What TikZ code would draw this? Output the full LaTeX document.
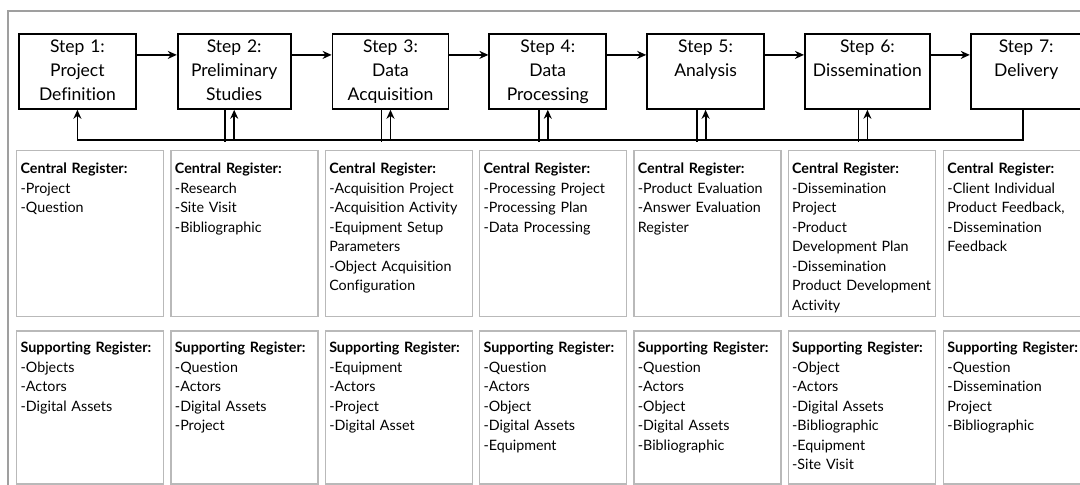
\documentclass[tikz,border=0pt]{standalone}
\usepackage{fontspec}
\setmainfont{Lato}[Ligatures=NoCommon]
\usetikzlibrary{positioning}
\usetikzlibrary{arrows.meta}

\begin{document}
\begin{tikzpicture}[x=1pt,y=-1pt,node distance=40pt,line width=1.8pt,
  >={Stealth[length=9pt,width=8pt]},
  stepbox/.style={draw,rectangle,align=center,inner sep=3pt,
    font=\fontsize{17.5}{24}\selectfont,text height=16pt,text depth=53pt},
  register/.style={draw=gray!55,line width=1.3pt,align=left,inner sep=4pt,
    text width=139pt,font=\fontsize{14.3}{19.5}\selectfont},
  central/.style={register,text height=19pt,text depth=139pt},
  support/.style={register,text height=18pt,text depth=127pt}]
  \useasboundingbox (0,0) rectangle (1080,485);
  \draw[gray!75,line width=1.3pt] (8,485) -- (8,11) -- (1080,11);

  % steps
  \node[stepbox,text width=111pt,anchor=north west] (s1) at (18,33) {Step 1:\\Project\\Definition};
  \node[stepbox,text width=107pt] (s2) [right=of s1] {Step 2:\\Preliminary\\Studies};
  \node[stepbox,text width=110pt] (s3) [right=of s2] {Step 3:\\Data\\Acquisition};
  \node[stepbox,text width=111pt] (s4) [right=39pt of s3] {Step 4:\\Data\\Processing};
  \node[stepbox,text width=111pt] (s5) [right=39pt of s4] {Step 5:\\Analysis};
  \node[stepbox,text width=119pt] (s6) [right=39pt of s5] {Step 6:\\Dissemination};
  \node[stepbox,text width=105pt] (s7) [right=39pt of s6] {Step 7:\\Delivery};

  \foreach \i/\j in {1/2,2/3,3/4,4/5,5/6,6/7}
    \draw[->] ([yshift=16.5pt]s\i.east) -- ([yshift=16.5pt]s\j.west);

  % feedback
  \coordinate (bus) at (0,140);
  \draw[->] ([xshift=-3pt]s7.south) |- (s1.south |- bus) -- (s1.south);
  \foreach \i in {2,...,6}{
    \draw ([xshift=-9pt]s\i.south) -- ++(0,32);
    \draw[->] (s\i.south |- bus) -- (s\i.south);
  }

  % central registers
  \node[central,anchor=north west] (c1) at (16,150) {\textbf{Central Register:}\\-Project\\-Question};
  \node[central] (c2) [right=6pt of c1] {\textbf{Central Register:}\\-Research\\-Site Visit\\-Bibliographic};
  \node[central] (c3) [right=6pt of c2] {\textbf{Central Register:}\\-Acquisition Project\\-Acquisition Activity\\-Equipment Setup\\Parameters\\-Object Acquisition\\Configuration};
  \node[central] (c4) [right=6pt of c3] {\textbf{Central Register:}\\-Processing Project\\-Processing Plan\\-Data Processing};
  \node[central] (c5) [right=6pt of c4] {\textbf{Central Register:}\\-Product Evaluation\\-Answer Evaluation\\Register};
  \node[central] (c6) [right=6pt of c5] {\textbf{Central Register:}\\-Dissemination\\Project\\-Product\\Development Plan\\-Dissemination\\Product Development\\Activity};
  \node[central] (c7) [right=7pt of c6] {\textbf{Central Register:}\\-Client Individual\\Product Feedback,\\-Dissemination\\Feedback};

  % supporting registers
  \node[support] (p1) [below=13pt of c1] {\textbf{Supporting Register:}\\-Objects\\-Actors\\-Digital Assets};
  \node[support] (p2) [below=13pt of c2] {\textbf{Supporting Register:}\\-Question\\-Actors\\-Digital Assets\\-Project};
  \node[support] (p3) [below=13pt of c3] {\textbf{Supporting Register:}\\-Equipment\\-Actors\\-Project\\-Digital Asset};
  \node[support] (p4) [below=13pt of c4] {\textbf{Supporting Register:}\\-Question\\-Actors\\-Object\\-Digital Assets\\-Equipment};
  \node[support] (p5) [below=13pt of c5] {\textbf{Supporting Register:}\\-Question\\-Actors\\-Object\\-Digital Assets\\-Bibliographic};
  \node[support] (p6) [below=13pt of c6] {\textbf{Supporting Register:}\\-Object\\-Actors\\-Digital Assets\\-Bibliographic\\-Equipment\\-Site Visit};
  \node[support] (p7) [below=13pt of c7] {\textbf{Supporting Register:}\\-Question\\-Dissemination\\Project\\-Bibliographic};
\end{tikzpicture}
\end{document}
